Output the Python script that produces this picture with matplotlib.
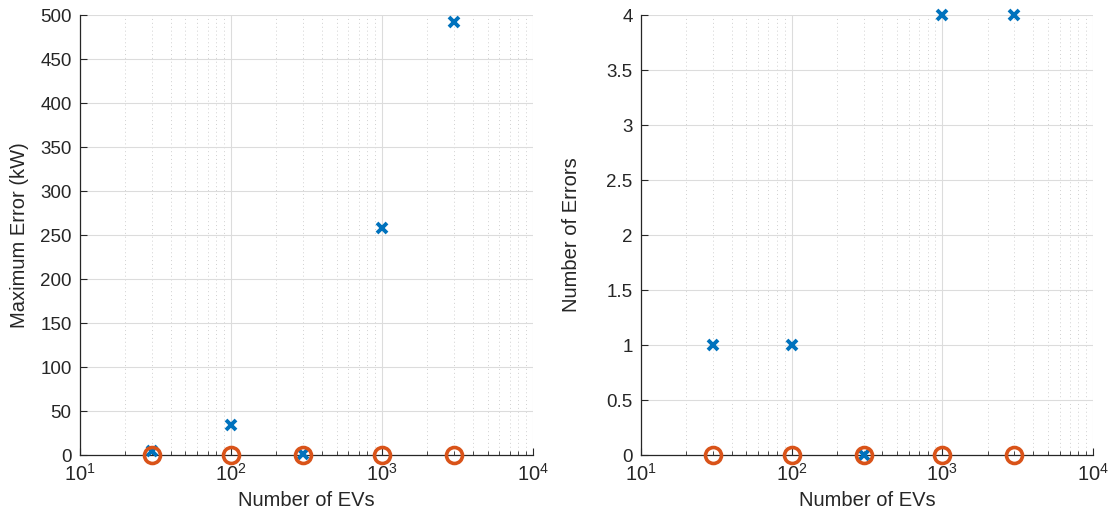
import matplotlib
matplotlib.use("Agg")
import matplotlib.pyplot as plt
import matplotlib.ticker as mticker

plt.rcParams['font.family'] = ['Liberation Sans', 'DejaVu Sans']
plt.rcParams['mathtext.fontset'] = 'custom'
plt.rcParams['mathtext.rm'] = 'Liberation Sans'

num_evs = [30, 100, 300, 1000, 3000]
max_err_a = [4, 34, 1, 258, 492]
max_err_b = [0, 0, 0, 0, 0]
n_err_a = [1, 1, 0, 4, 4]
n_err_b = [0, 0, 0, 0, 0]

blue = '#0072BD'
orange = '#D95319'
dark = '#262626'

fig = plt.figure(figsize=(11.15, 5.23), dpi=100)
ax1 = fig.add_axes([0.0717, 0.130, 0.4063, 0.841])
ax2 = fig.add_axes([0.5749, 0.130, 0.4054, 0.841])

def style(ax, ylim, yticks, ylabel, yfmt, lpad):
    ax.set_xscale('log')
    ax.set_xlim(10, 1e4)
    ax.set_ylim(*ylim)
    ax.set_yticks(yticks)
    ax.set_yticklabels([yfmt(v) for v in yticks])
    ax.xaxis.set_minor_locator(mticker.LogLocator(base=10, subs=range(2, 10), numticks=10))
    ax.xaxis.set_minor_formatter(mticker.NullFormatter())
    ax.set_xticks([10, 100, 1000, 10000])
    ax.set_xticklabels([r'$10^{1}$', r'$10^{2}$', r'$10^{3}$', r'$10^{4}$'])
    for s in ['top', 'right']:
        ax.spines[s].set_visible(False)
    for s in ['left', 'bottom']:
        ax.spines[s].set_color(dark)
        ax.spines[s].set_linewidth(0.9)
    ax.tick_params(which='both', direction='in', colors=dark, labelsize=13.5, pad=6)
    ax.tick_params(axis='x', which='major', labelsize=14.5)
    ax.tick_params(which='major', length=5)
    ax.tick_params(which='minor', length=3)
    ax.grid(True, which='major', color='#dcdcdc', linewidth=0.8)
    ax.grid(True, which='minor', axis='x', color='#d0d0d0', linestyle=(0, (1, 3)), linewidth=0.7)
    ax.set_axisbelow(True)
    ax.set_xlabel('Number of EVs', fontsize=14.5, color=dark, labelpad=4)
    ax.set_ylabel(ylabel, fontsize=14.5, color=dark, labelpad=lpad)

style(ax1, (0, 500), list(range(0, 501, 50)), 'Maximum Error (kW)', lambda v: f'{v:g}', 8)
style(ax2, (0, 4), [i * 0.5 for i in range(9)], 'Number of Errors', lambda v: f'{v:g}', 18)

for ax, a, b in [(ax1, max_err_a, max_err_b), (ax2, n_err_a, n_err_b)]:
    ax.plot(num_evs, a, linestyle='none', marker='x', color=blue, markersize=7,
            markeredgewidth=2.8, clip_on=False, zorder=3)
    ax.plot(num_evs, b, linestyle='none', marker='o', markerfacecolor='none',
            markeredgecolor=orange, markersize=11.5, markeredgewidth=2.6, clip_on=False, zorder=4)

fig.savefig('out.png', dpi=100)
